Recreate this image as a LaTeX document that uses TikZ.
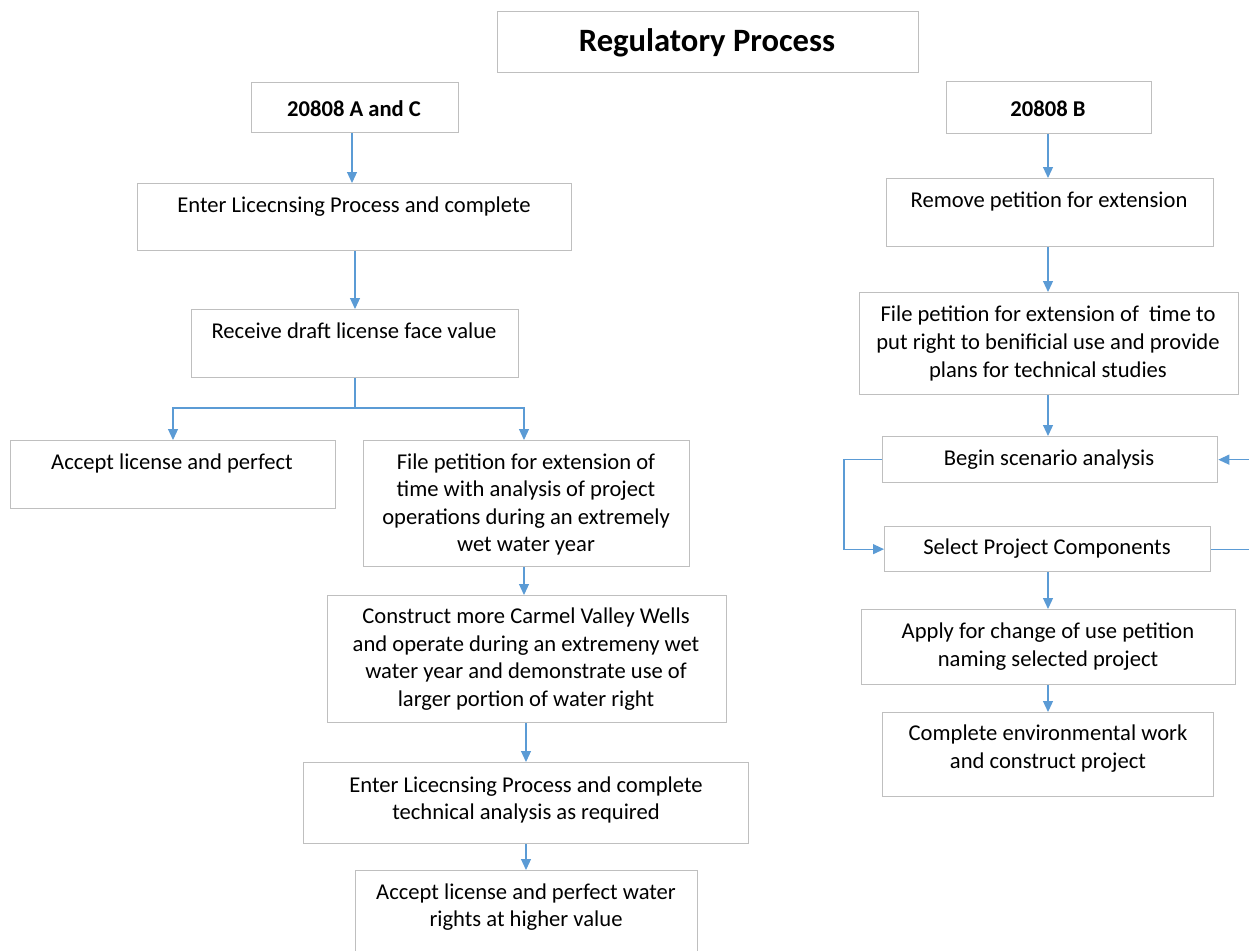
\documentclass[tikz,border=0pt]{standalone}
\usepackage{fontspec}
\setmainfont{Carlito}
\usetikzlibrary{arrows.meta,calc}
\definecolor{arrowblue}{HTML}{5B9BD5}
\definecolor{boxgray}{HTML}{BFBFBF}
\begin{document}
\begin{tikzpicture}[x=1pt,y=-1pt,
  box/.style={draw=boxgray, line width=1.3pt, rectangle, inner sep=0pt, anchor=north west},
  txt/.style={inner sep=0pt, align=center, anchor=base, font=\fontsize{22.6}{27.6}\selectfont},
  btxt/.style={inner sep=0pt, align=center, anchor=base, font=\fontsize{22.6}{27.6}\selectfont\bfseries},
  ttxt/.style={inner sep=0pt, align=center, anchor=base, font=\fontsize{32.6}{38}\selectfont\bfseries},
  arr/.style={draw=arrowblue, line width=1.2pt, -{Triangle[length=11pt,width=10pt]}},
  ln/.style={draw=arrowblue, line width=1.2pt}]
\useasboundingbox (0,0) rectangle (1249,950);
% boxes
\node[box, minimum width=421, minimum height=61] (title) at (497,11) {};
\node[box, minimum width=207, minimum height=50] (ac) at (251,82) {};
\node[box, minimum width=205, minimum height=52] (b) at (946,81) {};
\node[box, minimum width=434, minimum height=67] (enter1) at (137,183) {};
\node[box, minimum width=327, minimum height=68] (recv) at (191,309) {};
\node[box, minimum width=325, minimum height=68] (acc1) at (10,440) {};
\node[box, minimum width=326, minimum height=126] (filel) at (363,440) {};
\node[box, minimum width=399, minimum height=127] (constr) at (327,595) {};
\node[box, minimum width=445, minimum height=81] (enter2) at (303,762) {};
\node[box, minimum width=342, minimum height=100] (acc2) at (355,870) {};
\node[box, minimum width=327, minimum height=68] (remove) at (886,178) {};
\node[box, minimum width=379, minimum height=102] (filer) at (859,292) {};
\node[box, minimum width=335, minimum height=46] (begin) at (882,436) {};
\node[box, minimum width=326, minimum height=45] (select) at (884,526) {};
\node[box, minimum width=374, minimum height=75] (apply) at (861,609) {};
\node[box, minimum width=331, minimum height=84] (compl) at (882,712) {};
% texts (anchor = baseline of last line)
\node[ttxt] (title-t) at (707,52) {Regulatory Process};
\node[btxt] (ac-t) at (354,116) {20808 A and C};
\node[btxt] (b-t) at (1048,116) {20808 B};
\node[txt] (enter1-t) at (354,212) {Enter Licecnsing Process and complete};
\node[txt] (recv-t) at (354,338) {Receive draft license face value};
\node[txt] (acc1-t) at (172,469) {Accept license and perfect};
\node[txt] (filel-t) at (526,551.8) {File petition for extension of\\time with analysis of project\\operations during an extremely\\wet water year};
\node[txt] (constr-t) at (526,706.5) {Construct more Carmel Valley Wells\\and operate during an extremeny wet\\water year and demonstrate use of\\larger portion of water right};
\node[txt] (enter2-t) at (526,819.6) {Enter Licecnsing Process and complete\\technical analysis as required};
\node[txt] (acc2-t) at (526,926.6) {Accept license and perfect water\\rights at higher value};
\node[txt] (remove-t) at (1049,207) {Remove petition for extension};
\node[txt] (filer-t) at (1048,377) {File petition for extension of\ \ time to\\put right to benificial use and provide\\plans for technical studies};
\node[txt] (begin-t) at (1049,465) {Begin scenario analysis};
\node[txt] (select-t) at (1047,554) {Select Project Components};
\node[txt] (apply-t) at (1048,666) {Apply for change of use petition\\naming selected project};
\node[txt] (compl-t) at (1048,768.5) {Complete environmental work\\and construct project};
% connectors left
\draw[arr] (ac.south -| 352,0) -- (enter1.north -| 352,0);
\draw[arr] (enter1.south -| 355,0) -- (recv.north -| 355,0);
\coordinate (split) at (355,408);
\draw[ln] (recv.south -| split) -- (split);
\draw[arr] (split) -| (acc1.north -| 173,0);
\draw[arr] (split) -| (filel.north -| 524,0);
\draw[arr] (filel.south -| 524,0) -- (constr.north -| 524,0);
\draw[arr] (constr.south -| 526,0) -- (enter2.north -| 526,0);
\draw[arr] (enter2.south -| 526,0) -- (acc2.north -| 526,0);
% connectors right
\draw[arr] (b.south -| 1048,0) -- (remove.north -| 1048,0);
\draw[arr] (remove.south -| 1048,0) -- (filer.north -| 1048,0);
\draw[arr] (filer.south -| 1048,0) -- (begin.north -| 1048,0);
\draw[arr] (begin.west) -- ++(-38,0) |- (select.west);
\coordinate (redge) at (1252,500);
\draw[ln] (select.east) -- (select.east -| redge);
\draw[arr] (begin.east -| redge) -- (begin.east);
\draw[arr] (select.south -| 1048,0) -- (apply.north -| 1048,0);
\draw[arr] (apply.south -| 1048,0) -- (compl.north -| 1048,0);
\end{tikzpicture}
\end{document}
